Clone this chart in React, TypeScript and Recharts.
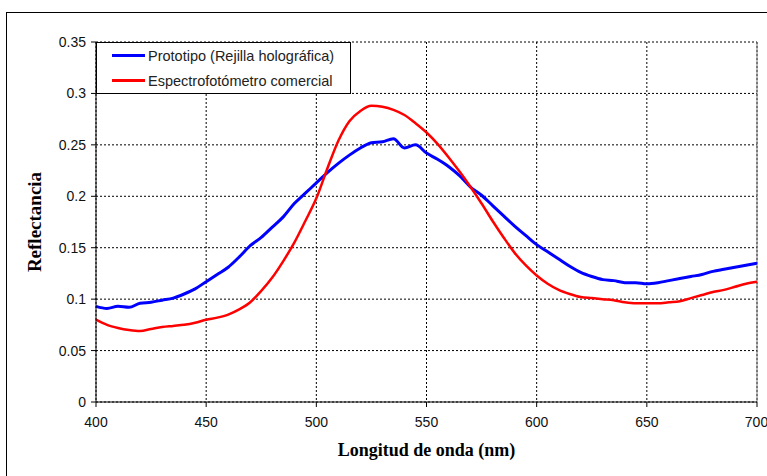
import { LineChart, Line, XAxis, YAxis, CartesianGrid, ReferenceLine } from "recharts";

const wavelengths = [
  400, 405, 410, 415, 420, 425, 430, 435, 440, 445, 450, 455, 460, 465, 470, 475, 480, 485, 490, 495,
  500, 505, 510, 515, 520, 525, 530, 535, 540, 545, 550, 555, 560, 565, 570, 575, 580, 585, 590, 595,
  600, 605, 610, 615, 620, 625, 630, 635, 640, 645, 650, 655, 660, 665, 670, 675, 680, 685, 690, 695, 700,
];

const prototipo = [
  0.093, 0.091, 0.093, 0.092, 0.096, 0.097, 0.099, 0.101, 0.105, 0.11, 0.117, 0.124, 0.131, 0.141, 0.152, 0.16, 0.17, 0.18, 0.193, 0.203,
  0.213, 0.223, 0.232, 0.24, 0.247, 0.252, 0.253, 0.256, 0.247, 0.25, 0.242, 0.236, 0.229, 0.22, 0.209, 0.201, 0.191, 0.181, 0.171, 0.162,
  0.153, 0.146, 0.139, 0.132, 0.126, 0.122, 0.119, 0.118, 0.116, 0.116, 0.115, 0.116, 0.118, 0.12, 0.122, 0.124, 0.127, 0.129, 0.131, 0.133, 0.135,
];

const comercial = [
  0.08, 0.075, 0.072, 0.07, 0.069, 0.071, 0.073, 0.074, 0.075, 0.077, 0.08, 0.082, 0.085, 0.09, 0.097, 0.108, 0.121, 0.137, 0.155, 0.176,
  0.198, 0.227, 0.254, 0.273, 0.283, 0.288, 0.287, 0.284, 0.279, 0.271, 0.262, 0.251, 0.238, 0.224, 0.209, 0.193, 0.176, 0.16, 0.145, 0.133,
  0.123, 0.115, 0.109, 0.105, 0.102, 0.101, 0.1, 0.099, 0.097, 0.096, 0.096, 0.096, 0.097, 0.098, 0.101, 0.104, 0.107, 0.109, 0.112, 0.115, 0.117,
];

const xTicks = [400, 450, 500, 550, 600, 650, 700];
const yTicks = [0, 0.05, 0.1, 0.15, 0.2, 0.25, 0.3, 0.35];

const seriesNames = ["Prototipo (Rejilla holográfica)", "Espectrofotómetro comercial"];
const seriesColors = ["#0000ff", "#ff0000"];

const data = wavelengths.map((w, i) => ({ w, proto: prototipo[i], com: comercial[i] }));

const sans = "'Liberation Sans', Arial, sans-serif";
const serif = "'Liberation Serif', 'Times New Roman', serif";

function LegendBox() {
  return (
    <div
      style={{
        position: "absolute",
        left: 96,
        top: 42,
        width: 255,
        height: 52,
        border: "1px solid #000",
        background: "#fff",
        boxSizing: "border-box",
        fontFamily: sans,
        fontSize: 14.5,
        color: "#222",
        paddingTop: 0,
      }}
    >
      {seriesNames.map((n, i) => (
        <div key={n} style={{ display: "flex", alignItems: "center", height: 25, whiteSpace: "nowrap" }}>
          <span style={{ display: "inline-block", width: 33, height: 3, background: seriesColors[i], marginLeft: 15, marginRight: 3 }} />
          <span>{n}</span>
        </div>
      ))}
    </div>
  );
}

export default function App() {
  return (
    <div style={{ position: "absolute", left: 0, top: 0, width: 767, height: 476, background: "#fff", overflow: "hidden" }}>
      <div style={{ position: "absolute", left: 6, top: 12, width: 770, height: 470, border: "1px solid #000" }} />
      <LineChart
        width={767}
        height={476}
        data={data}
        margin={{ top: 42, right: 10, left: 36, bottom: 44 }}
        style={{ position: "absolute", left: 0, top: 0 }}
      >
        <CartesianGrid stroke="#000" strokeDasharray="2 2" strokeWidth={1} />
        <XAxis
          dataKey="w"
          type="number"
          domain={[400, 700]}
          ticks={xTicks}
          height={30}
          stroke="#000"
          tickSize={5}
          tickMargin={10}
          tick={{ fill: "#111", fontSize: 14, fontFamily: sans }}
          label={{
            value: "Longitud de onda (nm)",
            position: "insideBottom",
            offset: -24,
            style: { fontFamily: serif, fontWeight: "bold", fontSize: 18, fill: "#000" },
          }}
        />
        <YAxis
          type="number"
          domain={[0, 0.35]}
          ticks={yTicks}
          width={60}
          stroke="#000"
          tickSize={5}
          tickMargin={5}
          tickFormatter={(v: number) => String(v)}
          tick={{ fill: "#111", fontSize: 14, fontFamily: sans }}
          label={{
            value: "Reflectancia",
            angle: -90,
            position: "insideLeft",
            offset: -2,
            style: { textAnchor: "middle", fontFamily: serif, fontWeight: "bold", fontSize: 19, fill: "#000" },
          }}
        />
        <ReferenceLine x={700} stroke="#777" strokeWidth={1} />
        <Line type="monotone" dataKey="proto" stroke={seriesColors[0]} strokeWidth={3} dot={false} isAnimationActive={false} />
        <Line type="monotone" dataKey="com" stroke={seriesColors[1]} strokeWidth={2.5} dot={false} isAnimationActive={false} />
      </LineChart>
      <LegendBox />
    </div>
  );
}
